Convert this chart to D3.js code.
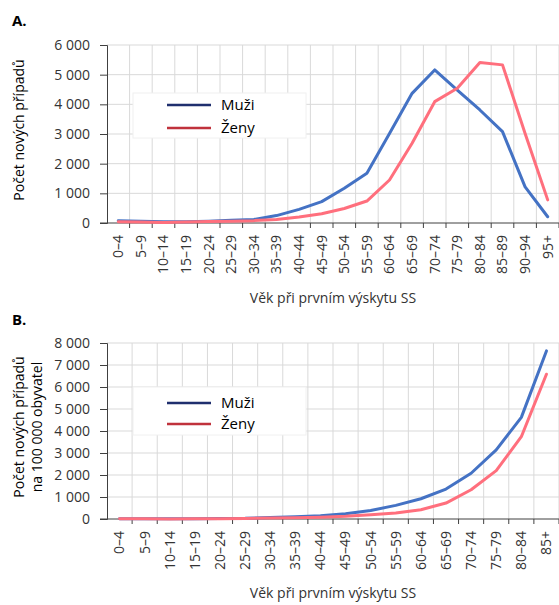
<!DOCTYPE html>
<html>
<head>
<meta charset="utf-8">
<script src="https://cdn.jsdelivr.net/npm/d3@7"></script>
<style>
  body { margin: 0; background: #fff; }
  svg { display: block; font-family: "Open Sans", sans-serif; }
</style>
</head>
<body>
<svg id="svg1" width="559" height="605"></svg>
<script>
// chart A - absolute counts
var catsA = ["0–4", "5–9", "10–14", "15–19", "20–24", "25–29", "30–34", "35–39", "40–44", "45–49",
  "50–54", "55–59", "60–64", "65–69", "70–74", "75–79", "80–84", "85–89", "90–94", "95+"];
var muziA = [80, 60, 40, 40, 60, 90, 120, 250, 460, 720, 1170, 1680, 3020, 4370, 5160, 4480, 3810, 3080, 1220, 210];
var zenyA = [40, 30, 20, 30, 50, 60, 80, 120, 200, 310, 490, 740, 1450, 2690, 4090, 4540, 5410, 5330, 3020, 780];
var ticksA = [0, 1000, 2000, 3000, 4000, 5000, 6000];

// chart B - per 100 000 inhabitants
var catsB = ["0–4", "5–9", "10–14", "15–19", "20–24", "25–29", "30–34", "35–39", "40–44", "45–49",
  "50–54", "55–59", "60–64", "65–69", "70–74", "75–79", "80–84", "85+"];
var muziB = [15, 8, 6, 10, 18, 30, 70, 100, 150, 240, 390, 620, 920, 1360, 2080, 3140, 4620, 7640];
var zenyB = [12, 7, 5, 8, 15, 25, 40, 55, 80, 120, 195, 270, 420, 725, 1330, 2200, 3740, 6580];
var ticksB = [0, 1000, 2000, 3000, 4000, 5000, 6000, 7000, 8000];

var seriesNames = ["Muži", "Ženy"];
var lineColors = ["#4472c4", "#ff6f7d"];
var legendColors = ["#1f2f6e", "#c0323c"];

var svg = d3.select("svg#svg1");

function fmt(v) {
  return d3.format(",")(v).replace(",", "\u00a0");
}

function drawChart(opt) {
  var g = svg.append("g");
  var x = d3.scaleBand().domain(opt.cats).range([opt.left, opt.right]);
  var y = d3.scaleLinear().domain([0, opt.max]).range([opt.bottom, opt.top]);

  // grid
  g.append("g")
    .selectAll("line.h")
    .data(opt.ticks.slice(1))
    .enter()
    .append("line")
    .attr("x1", opt.left)
    .attr("x2", opt.right)
    .attr("y1", function(d) { return y(d); })
    .attr("y2", function(d) { return y(d); })
    .attr("stroke", "#d9d9d9")
    .attr("stroke-width", 1);

  var bounds = opt.cats.map(function(c) { return x(c); }).concat([opt.right]);
  g.append("g")
    .selectAll("line.v")
    .data(bounds.slice(1))
    .enter()
    .append("line")
    .attr("x1", function(d) { return d; })
    .attr("x2", function(d) { return d; })
    .attr("y1", opt.top)
    .attr("y2", opt.bottom)
    .attr("stroke", "#d9d9d9")
    .attr("stroke-width", 1);

  // y axis
  var yAxis = g.append("g")
    .attr("transform", "translate(" + opt.left + ",0)")
    .call(d3.axisLeft(y).tickValues(opt.ticks).tickSize(7).tickPadding(10).tickFormat(fmt));
  yAxis.select(".domain").attr("stroke", "#404040");
  yAxis.selectAll(".tick line").attr("stroke", "#404040");
  yAxis.selectAll("text")
    .attr("fill", "#333")
    .style("font-size", "14px")
    .style("font-family", "Open Sans");

  // x axis
  var xAxis = g.append("g")
    .attr("transform", "translate(0," + opt.bottom + ")");
  xAxis.append("line")
    .attr("x1", opt.left - 7)
    .attr("x2", opt.right)
    .attr("stroke", "#404040");
  xAxis.selectAll("line.tk")
    .data(bounds.slice(1))
    .enter()
    .append("line")
    .attr("x1", function(d) { return d; })
    .attr("x2", function(d) { return d; })
    .attr("y1", 0)
    .attr("y2", 5)
    .attr("stroke", "#404040");
  xAxis.selectAll("text")
    .data(opt.cats)
    .enter()
    .append("text")
    .attr("transform", function(d) {
      return "translate(" + (x(d) + x.bandwidth() / 2) + ",12) rotate(-90)";
    })
    .attr("dy", "0.35em")
    .attr("text-anchor", "end")
    .attr("fill", "#333")
    .style("font-size", "14px")
    .text(function(d) { return d; });

  // legend
  var leg = g.append("g");
  leg.append("rect")
    .attr("x", 133)
    .attr("y", opt.legTop)
    .attr("width", 173)
    .attr("height", opt.legH)
    .attr("fill", "#fff")
    .attr("stroke", "#f0f0f0");
  seriesNames.forEach(function(name, i) {
    var ly = opt.legLines[i];
    leg.append("line")
      .attr("x1", 167)
      .attr("x2", 211)
      .attr("y1", ly)
      .attr("y2", ly)
      .attr("stroke", legendColors[i])
      .attr("stroke-width", 2.5);
    leg.append("text")
      .attr("x", 221)
      .attr("y", ly)
      .attr("dy", "0.35em")
      .attr("fill", "#000")
      .style("font-size", "15px")
      .text(name);
  });

  // lines
  var line = d3.line()
    .x(function(d, i) { return x(opt.cats[i]) + x.bandwidth() / 2; })
    .y(function(d) { return y(d); });
  [opt.muzi, opt.zeny].forEach(function(s, i) {
    g.append("path")
      .datum(s)
      .attr("d", line)
      .attr("fill", "none")
      .attr("stroke", lineColors[i])
      .attr("stroke-width", 3)
      .attr("stroke-linejoin", "round")
      .attr("stroke-linecap", "round");
  });

  // titles
  g.append("text")
    .attr("x", 12)
    .attr("y", opt.labelY)
    .style("font-weight", "bold")
    .style("font-size", "15px")
    .text(opt.label);

  g.append("text")
    .attr("x", (opt.left + opt.right) / 2)
    .attr("y", opt.xTitleY)
    .attr("text-anchor", "middle")
    .attr("fill", "#333")
    .style("font-size", "14px")
    .text("Věk při prvním výskytu SS");

  var yt = g.append("text")
    .attr("transform", "translate(0," + opt.yTitleY + ") rotate(-90)")
    .attr("text-anchor", "middle")
    .attr("fill", "#000")
    .style("font-size", "14px");
  opt.yTitle.forEach(function(t, i) {
    yt.append("tspan")
      .attr("x", 0)
      .attr("y", opt.yTitleX[i])
      .attr("dy", "0.35em")
      .text(t);
  });
}

drawChart({
  cats: catsA, muzi: muziA, zeny: zenyA, ticks: ticksA, max: 6000,
  left: 107, right: 559, top: 45, bottom: 223,
  legTop: 93, legH: 45, legLines: [105, 128],
  label: "A.", labelY: 26, xTitleY: 303,
  yTitle: ["Počet nových případů"], yTitleX: [19], yTitleY: 130
});

drawChart({
  cats: catsB, muzi: muziB, zeny: zenyB, ticks: ticksB, max: 8000,
  left: 107, right: 559, top: 343, bottom: 519,
  legTop: 387, legH: 48, legLines: [403, 424],
  label: "B.", labelY: 325, xTitleY: 598,
  yTitle: ["Počet nových případů", "na 100 000 obyvatel"], yTitleX: [19, 37], yTitleY: 427
});
</script>
</body>
</html>
